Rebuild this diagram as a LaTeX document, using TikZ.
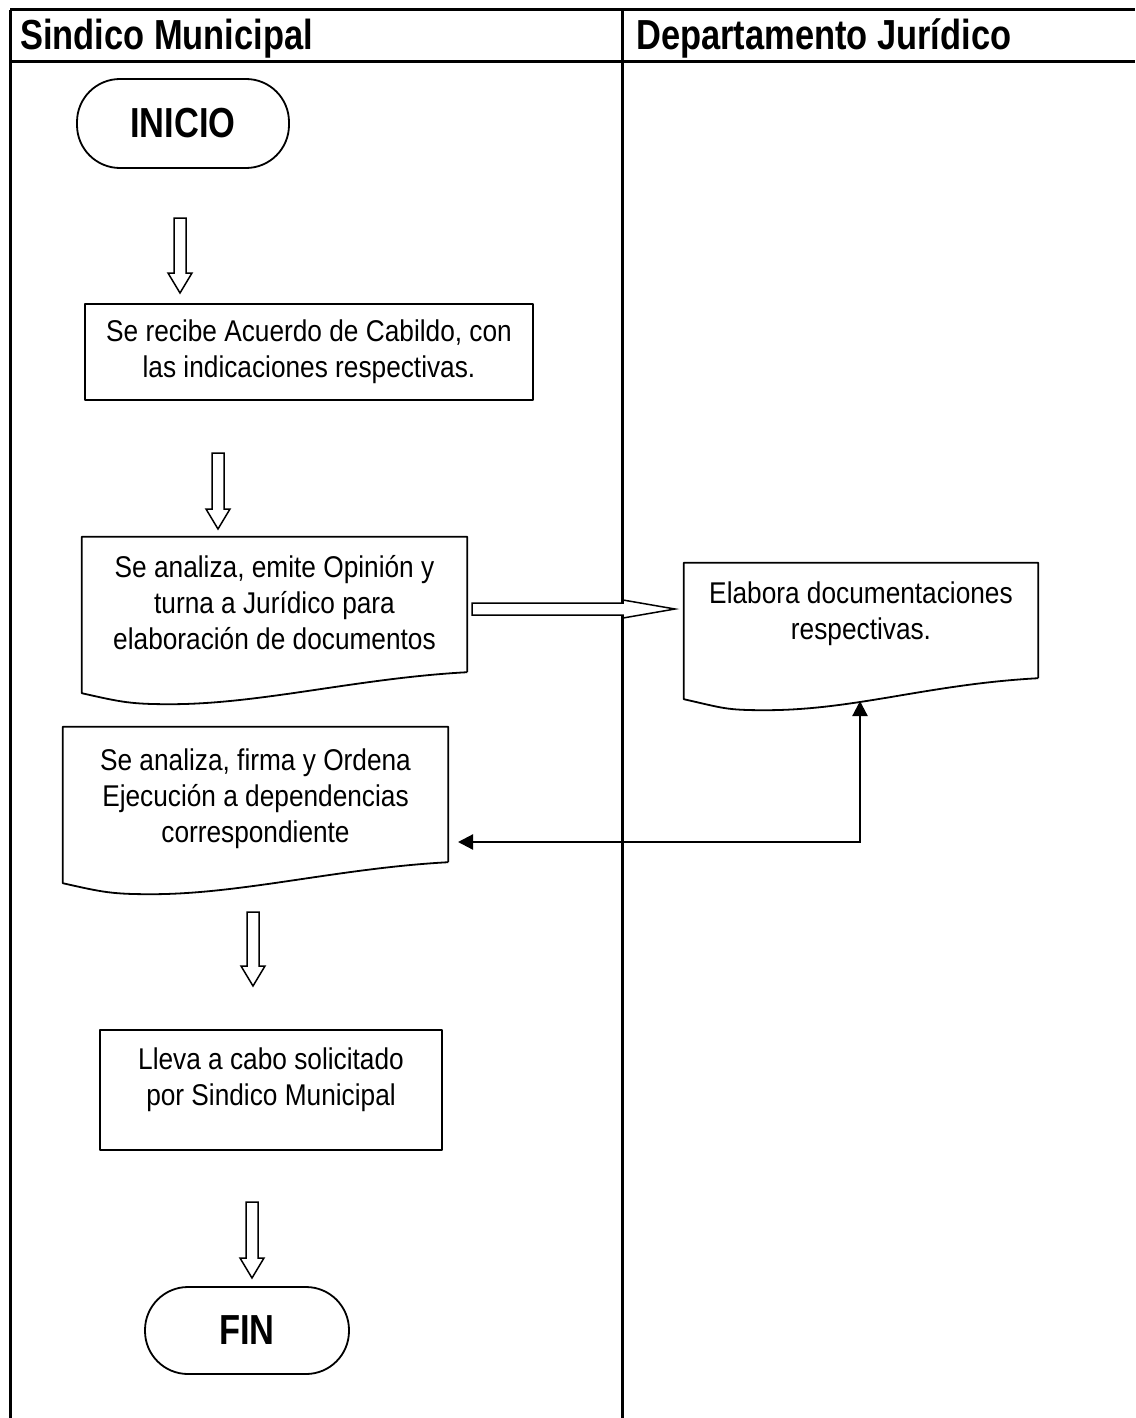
\documentclass[tikz,border=0pt]{standalone}
\usepackage{fontspec}
\setmainfont{Liberation Sans}
\newfontfamily\bodyfont[FakeStretch=0.875]{Liberation Sans}
\newfontfamily\hdrfont[FakeStretch=0.82]{Liberation Sans}
\usetikzlibrary{calc,arrows.meta}

\newcommand\docoutline[1]{%
  \draw[shp] (#1.south east) -- (#1.north east) -- (#1.north west) -- ($(#1.south west)+(0pt,-21pt)$)
    .. controls +(40pt,-9pt) and +(-40pt,0pt) .. ($(#1.south west)!0.23!(#1.south east)+(0pt,-32pt)$)
    .. controls +(90pt,0pt) and +(-110pt,-6pt) .. (#1.south east);}

\newcommand\vblk[2]{%
  \draw[blk] let \p1=(#1), \p2=(#2) in
    (\x1-6pt,\y1) -- (\x1+6pt,\y1) -- (\x1+6pt,\y2+20pt) -- (\x1+12pt,\y2+20pt) -- (\x1,\y2)
    -- (\x1-12pt,\y2+20pt) -- (\x1-6pt,\y2+20pt) -- cycle;}

\newcommand\hblk[2]{%
  \draw[blk] let \p1=(#1), \p2=(#2) in
    (\x1,\y1+6pt) -- (\x2-52pt,\y1+6pt) -- (\x2-52pt,\y1+9pt) -- (\x2,\y1)
    -- (\x2-52pt,\y1-9pt) -- (\x2-52pt,\y1-6pt) -- (\x1,\y1-6pt) -- cycle;}

\begin{document}
\begin{tikzpicture}[x=1pt,y=-1pt,
  lane/.style={line width=3pt},
  shp/.style={draw, line width=1.8pt, line join=round},
  blk/.style={draw, line width=1.5pt, fill=white, line join=miter},
  conn/.style={line width=2.2pt, {Triangle[length=15pt,width=15pt]}-{Triangle[length=15pt,width=15pt]}},
  txt/.style={font=\bodyfont\fontsize{30}{36}\selectfont, align=center, inner sep=0pt},
  hdr/.style={font=\hdrfont\bfseries\fontsize{42}{48}\selectfont, inner sep=0pt, anchor=base west},
  term/.style={shp, rectangle, rounded corners=43pt, inner sep=0pt, font=\hdrfont\bfseries\fontsize{42}{48}\selectfont},
  boxnode/.style={shp, rectangle, inner sep=0pt},
  docnode/.style={rectangle, inner sep=0pt}
]
\useasboundingbox (0,0) rectangle (1135,1418);

% swimlane frame
\draw[lane] (10,10) -- (1135,10);
\draw[lane] (10,62) -- (1135,62);
\draw[lane] (10,10) -- (10,1418);
\draw[lane] (622,10) -- (622,1418);
\node[hdr] (h1) at (20,50) {Sindico Municipal};
\node[hdr] (h2) at (636,50) {Departamento Jurídico};

% nodes
\node[term, minimum width=212pt, minimum height=89pt] (ini) at (183,123.5) {INICIO};
\node[boxnode, minimum width=448pt, minimum height=96pt,
      label={[txt]center:{Se recibe Acuerdo de Cabildo, con\\las indicaciones respectivas.}}] (b1) at (309,352) {};
\node[docnode, minimum width=385pt, minimum height=135pt,
      label={[txt,yshift=2pt]center:{Se analiza, emite Opinión y\\turna a Jurídico para\\elaboración de documentos}}] (d1) at (274.5,604.5) {};
\node[docnode, minimum width=354pt, minimum height=115pt,
      label={[txt,yshift=7pt]center:{Elabora documentaciones\\respectivas.}}] (dj) at (861,620.5) {};
\node[docnode, minimum width=385pt, minimum height=135pt,
      label={[txt,yshift=-4pt]center:{Se analiza, firma y Ordena\\Ejecución a dependencias\\correspondiente}}] (d2) at (255.5,794.5) {};
\node[boxnode, minimum width=342pt, minimum height=120pt,
      label={[txt,yshift=10pt]center:{Lleva a cabo solicitado\\por Sindico Municipal}}] (b3) at (271,1090) {};
\node[term, minimum width=204pt, minimum height=87pt] (fin) at (247,1330.5) {FIN};

\docoutline{d1}
\docoutline{dj}
\docoutline{d2}

% block arrows
\coordinate (a1s) at (180,218); \coordinate (a1e) at (180,293);
\coordinate (a2s) at (218,453); \coordinate (a2e) at (218,529);
\coordinate (a3s) at (253,912); \coordinate (a3e) at (253,986);
\coordinate (a4s) at (252,1202); \coordinate (a4e) at (252,1278);
\coordinate (hs) at (472,609); \coordinate (he) at (675,609);
\vblk{a1s}{a1e}
\vblk{a2s}{a2e}
\vblk{a3s}{a3e}
\vblk{a4s}{a4e}
\hblk{hs}{he}

% return connector
\coordinate (jb) at (860,701);
\coordinate (d2in) at (458,842);
\draw[conn] (jb) |- (d2in);
\end{tikzpicture}
\end{document}
